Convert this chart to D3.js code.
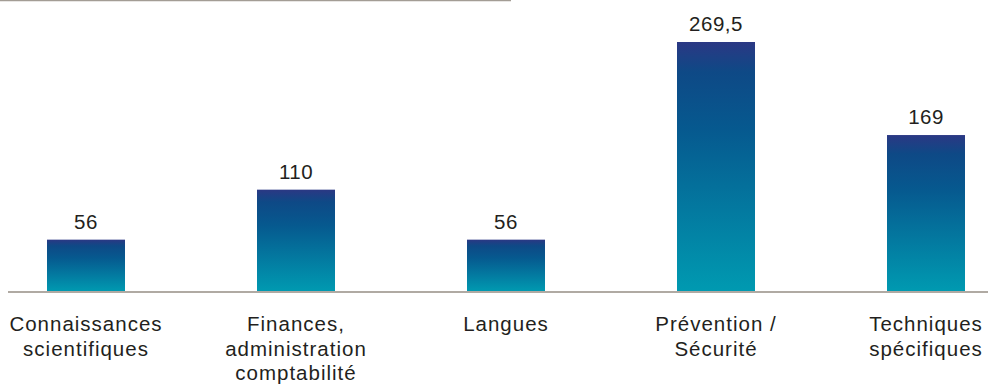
<!DOCTYPE html>
<html>
<head>
<meta charset="utf-8">
<script src="https://cdn.jsdelivr.net/npm/d3@7"></script>
<style>
  html, body { margin: 0; padding: 0; background: #fff; }
  svg { display: block; }
  text { font-family: "Liberation Sans", Arial, sans-serif; fill: #231f20; }
</style>
</head>
<body>
<svg id="chart" width="1005" height="385"></svg>
<script>
// Training hours by domain
const categories = [
  ["Connaissances", "scientifiques"],
  ["Finances,", "administration", "comptabilité"],
  ["Langues"],
  ["Prévention /", "Sécurité"],
  ["Techniques", "spécifiques"]
];
const values = [56, 110, 56, 269.5, 169];
const valueLabels = ["56", "110", "56", "269,5", "169"];

const svg = d3.select("#chart");
const baseY = 291.5;

const keys = categories.map((c, i) => i);
const x = d3.scaleBand()
  .domain(keys)
  .range([-19, 1031])
  .paddingInner(0.6286)
  .paddingOuter(0.3143);

const y = d3.scaleLinear()
  .domain([0, 269.5])
  .range([baseY, 42]);

// vertical gradient: indigo cap fading into blue, then teal at the base
const defs = svg.append("defs");
const grad = defs.append("linearGradient")
  .attr("id", "barGrad")
  .attr("x1", 0).attr("y1", 0).attr("x2", 0).attr("y2", 1);
[
  [0, "#2b3884"],
  [0.12, "#0e4986"],
  [0.35, "#06598f"],
  [1, "#009ab1"]
].forEach(([o, c]) => grad.append("stop").attr("offset", o).attr("stop-color", c));

// top rule
svg.append("line")
  .attr("x1", 0).attr("x2", 511)
  .attr("y1", 0.5).attr("y2", 0.5)
  .attr("stroke", "#a39d95").attr("stroke-width", 1.5);

// bars
svg.selectAll("rect.bar")
  .data(values)
  .join("rect")
  .attr("class", "bar")
  .attr("x", (d, i) => x(i))
  .attr("width", x.bandwidth())
  .attr("y", d => y(d))
  .attr("height", d => baseY - y(d))
  .attr("fill", "url(#barGrad)");

// baseline
svg.append("line")
  .attr("x1", 8).attr("x2", 988)
  .attr("y1", baseY + 0.5).attr("y2", baseY + 0.5)
  .attr("stroke", "#b0aaa3").attr("stroke-width", 2);

// value labels
svg.selectAll("text.val")
  .data(values)
  .join("text")
  .attr("class", "val")
  .attr("x", (d, i) => x(i) + x.bandwidth() / 2)
  .attr("y", d => y(d) - 11)
  .attr("text-anchor", "middle")
  .attr("font-size", 20.5)
  .attr("letter-spacing", 0.5)
  .text((d, i) => valueLabels[i]);

// category labels, one text element per line
const lines = categories.flatMap((c, i) => c.map((t, j) => ({ t, i, j })));
svg.selectAll("text.cat")
  .data(lines)
  .join("text")
  .attr("class", "cat")
  .attr("x", d => x(d.i) + x.bandwidth() / 2)
  .attr("y", d => 331 + d.j * 24.5)
  .attr("text-anchor", "middle")
  .attr("font-size", 20.5)
  .attr("letter-spacing", 1)
  .text(d => d.t);
</script>
</body>
</html>
